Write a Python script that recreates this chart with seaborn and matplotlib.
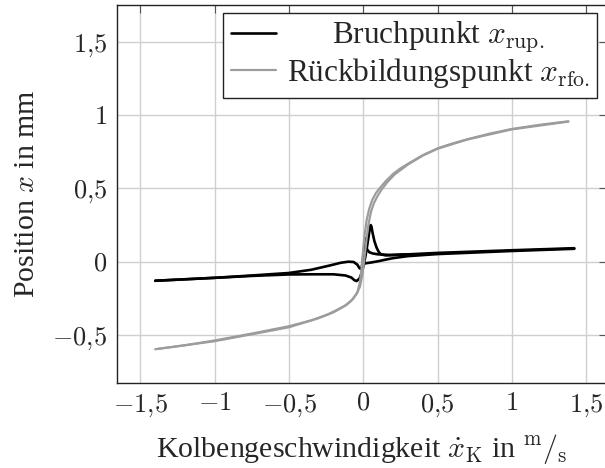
import numpy as np
import pandas as pd
import matplotlib
matplotlib.use("Agg")
import matplotlib.pyplot as plt
import matplotlib.transforms as mtransforms
from matplotlib.lines import Line2D
import seaborn as sns

# ---------------- data ----------------
series_names = ["Bruchpunkt", "Rückbildungspunkt"]
legend_labels = [r"Bruchpunkt $x_{\mathrm{rup.}}$", r"Rückbildungspunkt $x_{\mathrm{rfo.}}$"]

# Bruchpunkt (black) - loop branches
rup_a_x = [1.42, 1.0, 0.5, 0.3, 0.2, 0.15, 0.12, 0.105, 0.09, 0.075, 0.062, 0.055, 0.05, 0.04, 0.028, 0.015,
           0.003, -0.01, -0.025, -0.045, -0.06, -0.08, -0.12, -0.2, -0.35, -0.5, -0.75, -1.0, -1.2, -1.4]
rup_a_y = [0.092, 0.078, 0.06, 0.05, 0.045, 0.043, 0.05, 0.065, 0.095, 0.14, 0.2, 0.24, 0.25, 0.2, 0.12, 0.04,
           -0.02, -0.075, -0.115, -0.132, -0.126, -0.108, -0.094, -0.086, -0.086, -0.087, -0.097, -0.11, -0.12, -0.13]

rup_b_x = [-1.4, -1.2, -1.0, -0.75, -0.5, -0.35, -0.23, -0.15, -0.1, -0.065, -0.04, -0.025, -0.012, 0.0,
           0.02, 0.05, 0.1, 0.15, 0.2, 0.3, 0.5, 1.0, 1.42]
rup_b_y = [-0.13, -0.12, -0.11, -0.094, -0.077, -0.055, -0.027, -0.007, 0.0, -0.002, -0.02, -0.045, -0.05, -0.015,
           -0.01, -0.006, 0.003, 0.014, 0.024, 0.038, 0.052, 0.073, 0.088]

rup_c_x = [-0.012, -0.004, 0.004, 0.01, 0.014, 0.018, 0.025, 0.04, 0.064, 0.1, 0.18, 0.3]
rup_c_y = [-0.05, 0.0, 0.07, 0.13, 0.16, 0.12, 0.085, 0.065, 0.056, 0.05, 0.046, 0.05]

# Rückbildungspunkt (grey) - two branches
rfo_a_x = [-1.4, -1.2, -1.0, -0.75, -0.5, -0.35, -0.24, -0.18, -0.113, -0.07, -0.04, -0.025, -0.015, -0.007,
           0.0, 0.01, 0.022, 0.04, 0.06, 0.085, 0.11, 0.15, 0.2, 0.25, 0.3, 0.4, 0.5, 0.6, 0.71, 0.85,
           1.0, 1.2, 1.38]
rfo_a_y = [-0.597, -0.57, -0.537, -0.49, -0.44, -0.4, -0.36, -0.33, -0.295, -0.255, -0.21, -0.15, -0.08, 0.0,
           0.09, 0.19, 0.28, 0.36, 0.42, 0.468, 0.5, 0.548, 0.598, 0.636, 0.667, 0.726, 0.773, 0.806, 0.837, 0.873,
           0.905, 0.935, 0.957]

rfo_b_x = [-1.38, -1.0, -0.75, -0.5, -0.3, -0.2, -0.13, -0.08, -0.045, -0.022, -0.008, 0.003, 0.013, 0.024,
           0.036, 0.052, 0.072, 0.097, 0.122, 0.16, 0.21, 0.3, 0.4, 0.5, 0.7, 1.0, 1.38]
rfo_b_y = [-0.594, -0.542, -0.495, -0.447, -0.385, -0.345, -0.305, -0.265, -0.22, -0.17, -0.1, -0.02, 0.07, 0.17,
           0.26, 0.34, 0.4, 0.45, 0.49, 0.54, 0.594, 0.662, 0.723, 0.77, 0.833, 0.902, 0.955]

x_ticks = [-1.5, -1.0, -0.5, 0.0, 0.5, 1.0, 1.5]
x_tick_labels = [r"$-1{,}5$", r"$-1$", r"$-0{,}5$", r"$0$", r"$0{,}5$", r"$1$", r"$1{,}5$"]
y_ticks = [-0.5, 0.0, 0.5, 1.0, 1.5]
y_tick_labels = [r"$-0{,}5$", r"$0$", r"$0{,}5$", r"$1$", r"$1{,}5$"]

# ---------------- build table ----------------
frames = []
for name, cyc, xs, ys in [
    (series_names[0], "a", rup_a_x, rup_a_y),
    (series_names[0], "b", rup_b_x, rup_b_y),
    (series_names[0], "c", rup_c_x, rup_c_y),
    (series_names[1], "a", rfo_a_x, rfo_a_y),
    (series_names[1], "b", rfo_b_x, rfo_b_y),
]:
    frames.append(pd.DataFrame({"v": xs, "pos": ys, "serie": name, "cycle": name + cyc}))
df = pd.concat(frames, ignore_index=True)

# ---------------- style ----------------
sns.set_style("white")
plt.rcParams["font.family"] = ["Liberation Serif", "DejaVu Serif"]
plt.rcParams["mathtext.fontset"] = "cm"

colors = {series_names[0]: "#000000", series_names[1]: "#9c9c9c"}
widths_lw = {series_names[0]: 1.9, series_names[1]: 1.6}

fig = plt.figure(figsize=(6.05, 4.68), dpi=100)
ax = fig.add_axes([117 / 605, 85 / 468, 490 / 605, 378 / 468])

for name, z in [(series_names[0], 3), (series_names[1], 4)]:
    sub = df[df["serie"] == name]
    sns.lineplot(data=sub, x="v", y="pos", units="cycle", estimator=None, sort=False,
                 color=colors[name], linewidth=widths_lw[name], ax=ax, legend=False, zorder=z)

ax.set_xlim(-1.657, 1.64)
ax.set_ylim(-0.827, 1.75)
ax.set_xticks(x_ticks)
ax.set_xticklabels(x_tick_labels)
ax.set_yticks(y_ticks)
ax.set_yticklabels(y_tick_labels)
ax.tick_params(axis="both", which="both", direction="in", length=6, width=0.8, color="#555555",
               labelsize=19, top=True, right=True, pad=7)
ax.grid(True, color="#cfcfcf", linewidth=1.0, zorder=0)
ax.set_axisbelow(True)
for s in ax.spines.values():
    s.set_color("#222222")
    s.set_linewidth(1.0)
    s.set_visible(True)

ax.set_xlabel(r"Kolbengeschwindigkeit $\dot{x}_{\mathrm{K}}$ in $^{\mathrm{m}}/_{\mathrm{s}}$",
              fontsize=21.5, labelpad=9)
ax.set_ylabel(r"Position $x$ in mm", fontsize=21.5, labelpad=9)

handles = [Line2D([], [], color=colors[series_names[0]], lw=widths_lw[series_names[0]]),
           Line2D([], [], color=colors[series_names[1]], lw=widths_lw[series_names[1]])]
leg = ax.legend(handles, legend_labels, loc="upper right", bbox_to_anchor=(0.98, 0.98),
                borderaxespad=0, fontsize=22.5, frameon=True, fancybox=False, framealpha=1,
                edgecolor="#222222", handlelength=1.45, handletextpad=0.33, borderpad=0.25,
                labelspacing=0.02)
leg.get_frame().set_linewidth(1.0)
leg.set_zorder(10)

# center legend texts (like pgfplots)
fig.canvas.draw()
texts = leg.get_texts()
tw = [t.get_window_extent().width for t in texts]
wmax = max(tw)
for t, w in zip(texts, tw):
    dx = (wmax - w) / 2.0
    t.set_transform(t.get_transform() + mtransforms.Affine2D().translate(dx, 0))

fig.savefig("out.png", dpi=100)
